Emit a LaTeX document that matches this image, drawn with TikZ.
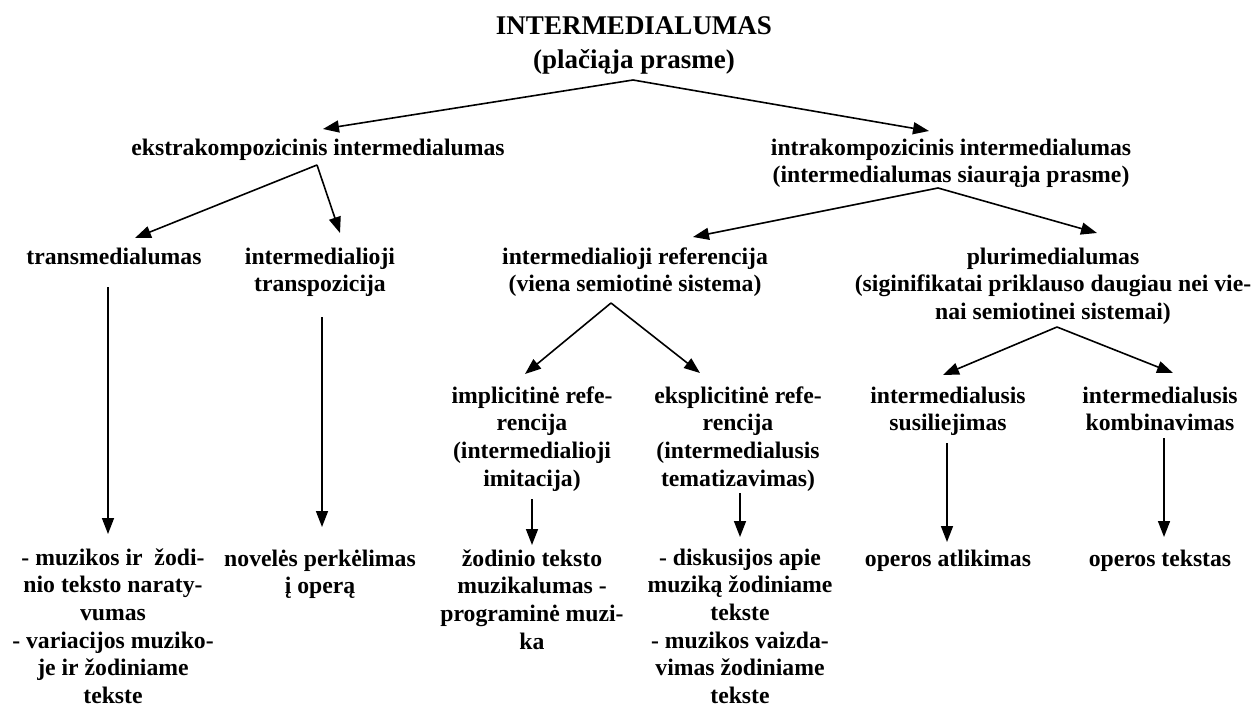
\documentclass[tikz,border=0pt]{standalone}
\usepackage{fontspec}
\setmainfont{Liberation Serif}
\usetikzlibrary{arrows.meta}
\begin{document}
\begin{tikzpicture}[x=1pt,y=-1pt,
  lbl/.style={font=\fontsize{23.7}{27.7}\selectfont\bfseries, align=center, inner sep=0pt, anchor=base},
  ttl/.style={font=\fontsize{27}{33}\selectfont\bfseries, align=center, inner sep=0pt, anchor=base},
  arr/.style={line width=1.6pt, -{Triangle[length=16pt,width=12pt]}}]
\useasboundingbox (0,0) rectangle (1255,709);
% nodes (anchor base = baseline of the last line)
\node[ttl] (title) at (634,68) {INTERMEDIALUMAS\\(plačiąja prasme)};
\node[lbl] (ekstra) at (318,155) {ekstrakompozicinis intermedialumas};
\node[lbl] (intra) at (951,182.7) {intrakompozicinis intermedialumas\\(intermedialumas siaurąja prasme)};
\node[lbl] (trans) at (114,264) {transmedialumas};
\node[lbl] (transp) at (320,291.7) {intermedialioji\\transpozicija};
\node[lbl] (ref) at (635,291.7) {intermedialioji referencija\\(viena semiotinė sistema)};
\node[lbl] (pluri) at (1053,319.4) {plurimedialumas\\(siginifikatai priklauso daugiau nei vie-\\nai semiotinei sistemai)};
\node[lbl] (impl) at (532,486.1) {implicitinė refe-\\rencija\\(intermedialioji\\imitacija)};
\node[lbl] (ekspl) at (738,486.1) {eksplicitinė refe-\\rencija\\(intermedialusis\\tematizavimas)};
\node[lbl] (susil) at (948,430.7) {intermedialusis\\susiliejimas};
\node[lbl] (komb) at (1160,430.7) {intermedialusis\\kombinavimas};
\node[lbl] (b1) at (113,703.5) {- muzikos ir\ \ žodi-\\nio teksto naraty-\\vumas\\- variacijos muziko-\\je ir žodiniame\\tekste};
\node[lbl] (b2) at (320,593.7) {novelės perkėlimas\\į operą};
\node[lbl] (b3) at (532,649.1) {žodinio teksto\\muzikalumas -\\programinė muzi-\\ka};
\node[lbl] (b4) at (740,703.5) {- diskusijos apie\\muziką žodiniame\\tekste\\- muzikos vaizda-\\vimas žodiniame\\tekste};
\node[lbl] (b5) at (948,566) {operos atlikimas};
\node[lbl] (b6) at (1160,566) {operos tekstas};
% connector points
\coordinate (a0) at (633,80);
\coordinate (a1) at (317,165);
\coordinate (a2) at (938,188);
\coordinate (a3) at (611,303);
\coordinate (a4) at (1057,327);
\coordinate (ekT) at (323,129);
\coordinate (inT) at (929,131);
\coordinate (trT) at (135,238);
\coordinate (tpT) at (340,233);
\coordinate (rfT) at (693,237);
\coordinate (plT) at (1097,233);
\coordinate (imT) at (525,374);
\coordinate (exT) at (700,373);
\coordinate (suT) at (943,375);
\coordinate (koT) at (1173,373);
\coordinate (v1s) at (108,287); \coordinate (v1t) at (108,534);
\coordinate (v2s) at (322,317); \coordinate (v2t) at (322,527);
\coordinate (v3s) at (532,499); \coordinate (v3t) at (532,545);
\coordinate (v4s) at (740,493); \coordinate (v4t) at (740,537);
\coordinate (v5s) at (947,443); \coordinate (v5t) at (947,542);
\coordinate (v6s) at (1164,438); \coordinate (v6t) at (1164,537);
% connectors
\draw[arr] (a0) -- (ekT);
\draw[arr] (a0) -- (inT);
\draw[arr] (a1) -- (trT);
\draw[arr] (a1) -- (tpT);
\draw[arr] (a2) -- (rfT);
\draw[arr] (a2) -- (plT);
\draw[arr] (a3) -- (imT);
\draw[arr] (a3) -- (exT);
\draw[arr] (a4) -- (suT);
\draw[arr] (a4) -- (koT);
\draw[arr] (v1s) -- (v1t);
\draw[arr] (v2s) -- (v2t);
\draw[arr] (v3s) -- (v3t);
\draw[arr] (v4s) -- (v4t);
\draw[arr] (v5s) -- (v5t);
\draw[arr] (v6s) -- (v6t);
\end{tikzpicture}
\end{document}
